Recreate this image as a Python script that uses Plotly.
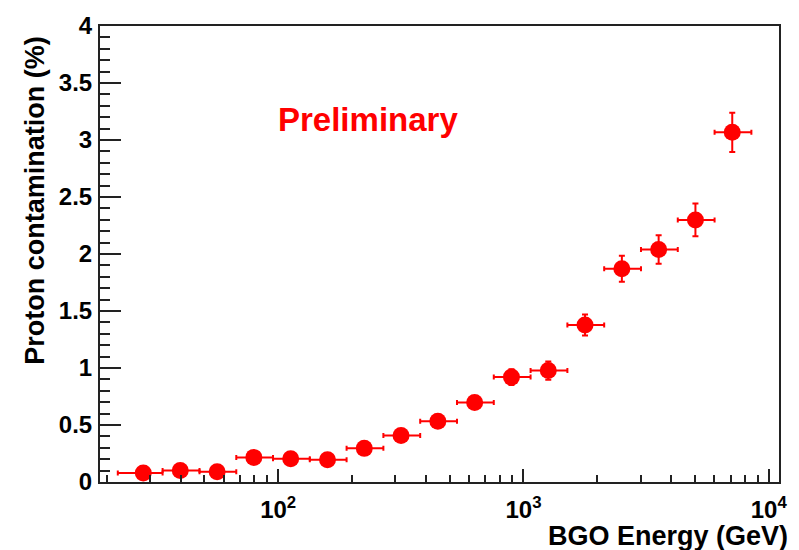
import plotly.graph_objects as go

# Bin centres (GeV) and bin edges (GeV)
energy = [28.2, 39.9, 56.4, 79.6, 112.5, 158.9, 224.4, 316.9, 447.7, 632.4,
          893.3, 1262, 1782, 2518, 3556, 5023, 7096]
bin_low = [22.2, 33.8, 47.8, 67.5, 95.3, 134.6, 190.1, 268.5, 379.3, 535.8,
           756.8, 1069, 1510, 2133, 3013, 4256, 6012]
bin_high = [33.8, 47.8, 67.5, 95.3, 134.6, 190.1, 268.5, 379.3, 535.8, 756.8,
            1069, 1510, 2133, 3013, 4256, 6012, 8492]
contamination = [0.079, 0.101, 0.090, 0.216, 0.204, 0.195, 0.295, 0.407, 0.532,
                 0.698, 0.920, 0.978, 1.377, 1.871, 2.039, 2.299, 3.067]
contamination_err = [0.025, 0.03, 0.03, 0.04, 0.04, 0.04, 0.045, 0.05, 0.05,
                     0.055, 0.07, 0.08, 0.093, 0.114, 0.125, 0.143, 0.172]

x_major_ticks = [100, 1000, 10000]
x_major_text = ["10<sup>2</sup>", "10<sup>3</sup>", "10<sup>4</sup>"]
x_minor_ticks = [20, 30, 40, 50, 60, 70, 80, 90,
                 200, 300, 400, 500, 600, 700, 800, 900,
                 2000, 3000, 4000, 5000, 6000, 7000, 8000, 9000]
y_major_ticks = [0, 0.5, 1, 1.5, 2, 2.5, 3, 3.5, 4]
y_major_text = ["0", "0.5", "1", "1.5", "2", "2.5", "3", "3.5", "4"]

err_plus = [h - c for h, c in zip(bin_high, energy)]
err_minus = [c - l for c, l in zip(energy, bin_low)]

FONT = "Liberation Sans, Arial, Helvetica, sans-serif"
RED = "#ff0000"

fig = go.Figure()
fig.add_trace(go.Scatter(
    x=energy, y=contamination, mode="markers",
    marker=dict(color=RED, size=17, line=dict(width=0)),
    error_x=dict(type="data", symmetric=False, array=err_plus, arrayminus=err_minus,
                 color=RED, thickness=2, width=2.5),
    error_y=dict(type="data", array=contamination_err, color=RED, thickness=2, width=3),
    showlegend=False,
))

fig.update_layout(
    width=799, height=550,
    margin=dict(l=100, r=13, t=15, b=68),
    paper_bgcolor="white", plot_bgcolor="white",
    font=dict(family=FONT, color="black"),
    xaxis=dict(
        type="log", range=[1.2738, 4.0416],
        tickmode="array", tickvals=x_major_ticks, ticktext=x_major_text,
        ticks="inside", ticklen=13, tickwidth=1.5, tickcolor="#222",
        minor=dict(tickmode="array", tickvals=x_minor_ticks, ticks="inside",
                   ticklen=7, tickwidth=1.5, tickcolor="#222", showgrid=False),
        showline=True, linecolor="#222", linewidth=2, mirror=True,
        showgrid=False, zeroline=False,
        tickfont=dict(family=FONT, size=24, color="black", weight="bold"),
        ticklabelstandoff=5,
    ),
    yaxis=dict(
        range=[0, 4],
        tickmode="array", tickvals=y_major_ticks, ticktext=y_major_text,
        ticks="inside", ticklen=21, tickwidth=1.5, tickcolor="#222",
        minor=dict(dtick=0.1, ticks="inside", ticklen=10, tickwidth=1.5,
                   tickcolor="#222", showgrid=False),
        showline=True, linecolor="#222", linewidth=2, mirror=True,
        showgrid=False, zeroline=False,
        tickfont=dict(family=FONT, size=24, color="black", weight="bold"),
        ticklabelstandoff=1,
    ),
    annotations=[
        dict(text="<b>Preliminary</b>", x=0.394, y=0.795, xref="paper", yref="paper",
             xanchor="center", yanchor="middle", showarrow=False,
             font=dict(family=FONT, size=33, color=RED)),
        dict(text="<b>BGO Energy (GeV)</b>", x=1.016, y=-0.118, xref="paper", yref="paper",
             xanchor="right", yanchor="middle", showarrow=False,
             font=dict(family=FONT, size=27, color="black")),
        dict(text="<b>Proton contamination (%)</b>", x=-0.095, y=0.982, xref="paper",
             yref="paper", xanchor="center", yanchor="top", textangle=-90,
             showarrow=False, font=dict(family=FONT, size=27, color="black")),
    ],
)

fig.write_html("out.html")
